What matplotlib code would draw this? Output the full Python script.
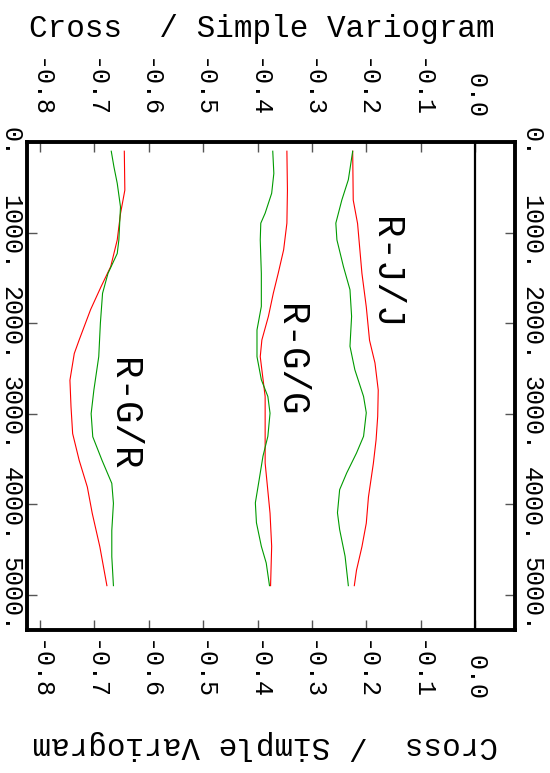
import matplotlib
matplotlib.use("Agg")
import matplotlib.pyplot as plt
import matplotlib.transforms as mtransforms

# distance (lag) ticks and variogram ticks
dist_ticks = [0, 1000, 2000, 3000, 4000, 5000]
dist_labels = ["0.", "1000.", "2000.", "3000.", "4000.", "5000."]
vario_ticks = [-0.8, -0.7, -0.6, -0.5, -0.4, -0.3, -0.2, -0.1, 0.0]
vario_labels = ["-0.8", "-0.7", "-0.6", "-0.5", "-0.4", "-0.3", "-0.2", "-0.1", "0.0"]

# R-J/J curves
d_jj_red = [100, 640, 900, 1450, 1820, 2190, 2440, 2740, 3030, 3290, 3550, 3920, 4210, 4470, 4730, 4900]
v_jj_red = [-0.225, -0.224, -0.216, -0.208, -0.200, -0.194, -0.184, -0.178, -0.179, -0.182, -0.187,
            -0.196, -0.200, -0.208, -0.218, -0.222]
d_jj_green = [100, 415, 640, 895, 1080, 1375, 1630, 1925, 2255, 2515, 2810, 2990, 3250, 3435, 3655,
              3840, 4095, 4280, 4575, 4900]
v_jj_green = [-0.225, -0.233, -0.245, -0.256, -0.254, -0.242, -0.230, -0.227, -0.230, -0.221, -0.205,
              -0.200, -0.205, -0.218, -0.236, -0.249, -0.253, -0.249, -0.239, -0.233]

# R-G/G curves
d_gg_red = [100, 530, 895, 1190, 1450, 1670, 1925, 2185, 2370, 2810, 3180, 3545, 3730, 4100, 4465, 4900]
v_gg_red = [-0.346, -0.345, -0.346, -0.352, -0.362, -0.371, -0.380, -0.392, -0.395, -0.386, -0.386,
            -0.386, -0.383, -0.377, -0.374, -0.376]
d_gg_green = [100, 345, 565, 785, 895, 1080, 1450, 1815, 2075, 2370, 2625, 2810, 2995, 3250, 3470,
              3730, 3985, 4205, 4465, 4650, 4900]
v_gg_green = [-0.372, -0.370, -0.374, -0.386, -0.394, -0.395, -0.393, -0.393, -0.401, -0.401, -0.393,
              -0.381, -0.377, -0.381, -0.390, -0.397, -0.404, -0.402, -0.393, -0.384, -0.378]

# R-G/R curves
d_gr_red = [100, 530, 790, 1080, 1375, 1600, 1850, 2185, 2335, 2630, 2925, 3220, 3515, 3810, 4100,
            4470, 4900]
v_gr_red = [-0.645, -0.644, -0.652, -0.658, -0.670, -0.688, -0.707, -0.728, -0.737, -0.745, -0.743,
            -0.740, -0.728, -0.713, -0.704, -0.690, -0.677]
d_gr_green = [100, 275, 455, 715, 1080, 1230, 1450, 1670, 2000, 2370, 2740, 3000, 3255, 3515, 3770,
              3990, 4290, 4580, 4900]
v_gr_green = [-0.669, -0.664, -0.658, -0.652, -0.655, -0.658, -0.675, -0.685, -0.689, -0.692, -0.701,
              -0.706, -0.703, -0.686, -0.668, -0.665, -0.668, -0.668, -0.665]

curve_names = ["R-J/J", "R-G/G", "R-G/R"]
name_pos = [(-0.165, 1444), (-0.340, 2405), (-0.647, 3008)]

title = "Cross  / Simple Variogram"

plt.rcParams["font.family"] = ["Liberation Mono", "DejaVu Sans Mono"]

W, H = 550, 773
fig = plt.figure(figsize=(W / 100, H / 100), dpi=100)
ax = fig.add_axes([26.7 / W, 1 - 630 / H, (515 - 26.7) / W, (630 - 141.7) / H])

red = "#ff0000"
green = "#009a00"
lw = 0.8

# the whole plot is turned on its side: variogram across, distance downwards
ax.plot(v_jj_red, d_jj_red, color=red, lw=lw)
ax.plot(v_jj_green, d_jj_green, color=green, lw=lw)
ax.plot(v_gg_red, d_gg_red, color=red, lw=lw)
ax.plot(v_gg_green, d_gg_green, color=green, lw=lw)
ax.plot(v_gr_red, d_gr_red, color=red, lw=lw)
ax.plot(v_gr_green, d_gr_green, color=green, lw=lw)

# zero line
ax.axvline(0.0, color="black", lw=1.6)

ax.set_xlim(-0.8245, 0.0735)
ax.set_ylim(5390, -5)

for s in ax.spines.values():
    s.set_linewidth(2.8)

ax.set_xticks(vario_ticks)
ax.set_yticks(dist_ticks)
ax.tick_params(direction="in", length=7, width=1, color="#555555",
               top=True, right=True, labelbottom=False, labelleft=False)

# curve names
for name, (vx, dy) in zip(curve_names, name_pos):
    ax.text(vx, dy, name, rotation=-90, fontsize=27, ha="center", va="center",
            rotation_mode="anchor")

# tick labels, drawn by hand since they are all rotated
tr_x = mtransforms.blended_transform_factory(ax.transData, fig.transFigure)
tr_y = mtransforms.blended_transform_factory(fig.transFigure, ax.transData)
for v, lab in zip(vario_ticks, vario_labels):
    fig.text(v, 1 - 118 / H, lab, transform=tr_x, rotation=-90, fontsize=18,
             ha="right", va="center", rotation_mode="anchor")
    fig.text(v, 1 - 700 / H, lab, transform=tr_x, rotation=-90, fontsize=18,
             ha="right", va="center", rotation_mode="anchor")
for d, lab in zip(dist_ticks, dist_labels):
    fig.text(10.5 / W, d, lab, transform=tr_y, rotation=-90, fontsize=18,
             ha="center", va="center", rotation_mode="anchor")
    fig.text(531 / W, d, lab, transform=tr_y, rotation=-90, fontsize=18,
             ha="center", va="center", rotation_mode="anchor")

# titles top and (upside down) bottom
fig.text(262 / W, 1 - 29 / H, title, fontsize=22.3, ha="center", va="center")
fig.text(265 / W, 1 - 745 / H, title, fontsize=22.3, ha="center", va="center", rotation=180)

fig.savefig("out.png", dpi=100)
